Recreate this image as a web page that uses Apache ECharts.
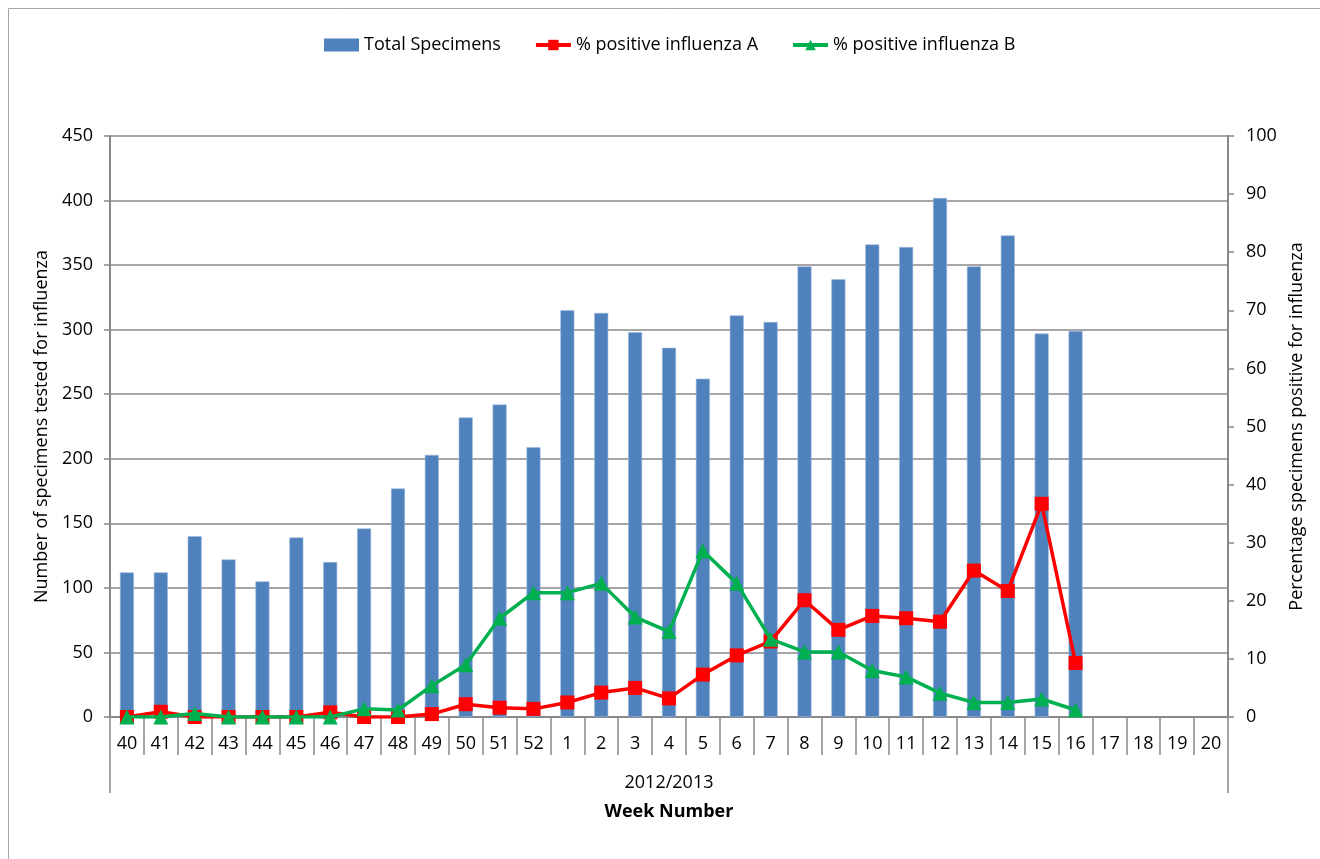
<!DOCTYPE html>
<html>
<head>
<meta charset="utf-8">
<title>Influenza surveillance 2012/2013</title>
<script src="https://cdn.jsdelivr.net/npm/echarts@6/dist/echarts.min.js"></script>
<style>
  html, body { margin: 0; padding: 0; background: #ffffff; }
  #chart { width: 1320px; height: 859px; }
</style>
</head>
<body>
<div id="chart"></div>
<script>
// Surveillance weeks for the 2012/2013 season
const weeks = ['40','41','42','43','44','45','46','47','48','49','50','51','52',
  '1','2','3','4','5','6','7','8','9','10','11','12','13','14','15','16','17','18','19','20'];

// Number of specimens tested each week (no data yet from week 17)
const totalSpecimens = [112,112,140,122,105,139,120,146,177,203,232,242,209,
  315,313,298,286,262,311,306,349,339,366,364,402,349,373,297,299,null,null,null,null];

// Percentage of specimens positive for influenza A
const positiveA = [0,0.9,0,0,0,0,0.8,0,0,0.5,2.2,1.6,1.4,
  2.5,4.2,5.0,3.2,7.3,10.6,13.0,20.1,15.0,17.4,17.0,16.4,25.2,21.7,36.7,9.3,null,null,null,null];

// Percentage of specimens positive for influenza B
const positiveB = [0,0,0.6,0,0,0,0,1.4,1.2,5.4,9.0,17.0,21.4,
  21.4,23.0,17.2,14.7,28.6,23.0,13.4,11.2,11.2,8.0,6.9,4.1,2.5,2.5,3.1,1.2,null,null,null,null];

const seasonLabel = ['2012/2013'];

const FONT = '"Open Sans", "Liberation Sans", sans-serif';
const FS = 18;
const GRAY = '#888888';
const TEXT = '#000000';

const chart = echarts.init(document.getElementById('chart'), null, { renderer: 'canvas' });

chart.setOption({
  backgroundColor: '#ffffff',
  animation: false,
  textStyle: { fontFamily: FONT, color: TEXT },
  graphic: [{
    type: 'rect',
    shape: { x: 8.5, y: 8.5, width: 1400, height: 1000 },
    style: { fill: 'none', stroke: '#a6a6a6', lineWidth: 1 },
    silent: true,
    z: -10
  }],
  legend: {
    left: 319,
    top: 31,
    itemGap: 33,
    itemWidth: 35,
    itemHeight: 13,
    textStyle: { fontFamily: FONT, fontSize: FS, color: TEXT },
    data: [
      { name: 'Total Specimens', icon: 'rect', itemStyle: { borderWidth: 0 } },
      { name: '% positive influenza A', lineStyle: { width: 4 } },
      { name: '% positive influenza B', lineStyle: { width: 4 } }
    ]
  },
  grid: { left: 110, right: 92, top: 136, bottom: 142, containLabel: false },
  xAxis: [{
    type: 'category',
    data: weeks,
    boundaryGap: true,
    axisLine: { show: true, lineStyle: { color: GRAY, width: 2 } },
    axisTick: { show: true, interval: 0, length: 38, lineStyle: { color: GRAY, width: 1.5 } },
    axisLabel: { interval: 0, margin: 18, fontFamily: FONT, fontSize: FS, color: TEXT },
    splitLine: { show: false },
    name: 'Week Number',
    nameLocation: 'middle',
    nameGap: 86,
    nameTextStyle: { fontFamily: FONT, fontSize: FS, fontWeight: 'bold', color: TEXT }
  }, {
    type: 'category',
    data: seasonLabel,
    position: 'bottom',
    boundaryGap: true,
    axisLine: { show: false },
    axisTick: { show: true, interval: 0, length: 76, lineStyle: { color: GRAY, width: 1.5 } },
    axisLabel: { interval: 0, margin: 57, fontFamily: FONT, fontSize: FS, color: TEXT },
    splitLine: { show: false }
  }],
  yAxis: [{
    type: 'value',
    min: 0,
    max: 450,
    interval: 50,
    position: 'left',
    axisLine: { show: true, lineStyle: { color: GRAY, width: 2 } },
    axisTick: { show: true, length: 6, lineStyle: { color: GRAY, width: 1.5 } },
    axisLabel: { margin: 17, fontFamily: FONT, fontSize: FS, color: TEXT },
    splitLine: { show: true, lineStyle: { color: GRAY, width: 1.6 } },
    name: 'Number of specimens tested for influenza',
    nameLocation: 'middle',
    nameGap: 57,
    nameRotate: 90,
    nameTextStyle: { fontFamily: FONT, fontSize: FS, color: TEXT }
  }, {
    type: 'value',
    min: 0,
    max: 100,
    interval: 10,
    position: 'right',
    axisLine: { show: true, lineStyle: { color: GRAY, width: 2 } },
    axisTick: { show: true, length: 6, lineStyle: { color: GRAY, width: 1.5 } },
    axisLabel: { margin: 18, fontFamily: FONT, fontSize: FS, color: TEXT },
    splitLine: { show: false },
    name: 'Percentage specimens positive for influenza',
    nameLocation: 'middle',
    nameGap: 52,
    nameRotate: 90,
    nameTextStyle: { fontFamily: FONT, fontSize: FS, color: TEXT }
  }],
  series: [{
    name: 'Total Specimens',
    type: 'bar',
    xAxisIndex: 0,
    yAxisIndex: 0,
    data: totalSpecimens,
    barWidth: 14,
    itemStyle: { color: '#4F81BD', borderColor: '#9DB9DD', borderWidth: 0.6 },
    z: 2
  }, {
    name: '% positive influenza A',
    type: 'line',
    xAxisIndex: 0,
    yAxisIndex: 1,
    data: positiveA,
    symbol: 'rect',
    symbolSize: 14,
    showAllSymbol: true,
    lineStyle: { color: '#FF0000', width: 3.5 },
    itemStyle: { color: '#FF0000' },
    z: 4
  }, {
    name: '% positive influenza B',
    type: 'line',
    xAxisIndex: 0,
    yAxisIndex: 1,
    data: positiveB,
    symbol: 'triangle',
    symbolSize: 15,
    showAllSymbol: true,
    lineStyle: { color: '#00B050', width: 3.5 },
    itemStyle: { color: '#00B050' },
    z: 5
  }]
});
</script>
</body>
</html>
